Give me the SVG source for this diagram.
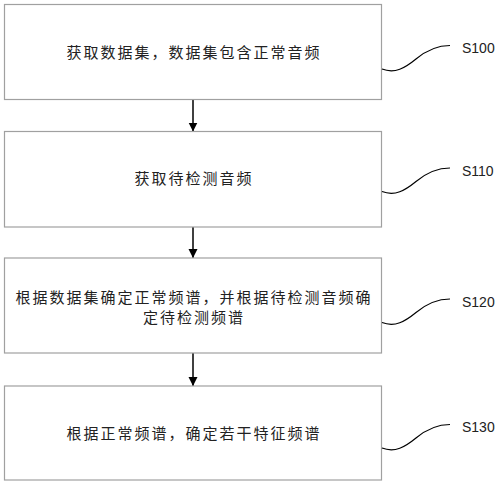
<svg xmlns="http://www.w3.org/2000/svg" width="500" height="489" viewBox="0 0 500 489">
<defs>
<style>
.box{fill:#fff;stroke:#a0a0a0;stroke-width:1.2}
.t{font-family:"Noto Sans CJK SC","Noto Sans",sans-serif;font-size:15px;fill:#222;text-anchor:middle;letter-spacing:2px}
.lbl{font-family:"Liberation Sans",Arial,sans-serif;font-size:14px;fill:#222}
.arr{stroke:#000;stroke-width:1.5;fill:none}
.cv{stroke:#000;stroke-width:1.2;fill:none}
</style>
<marker id="ah" markerWidth="9" markerHeight="10" refX="9" refY="4.5" orient="auto" markerUnits="userSpaceOnUse" viewBox="0 0 9 10">
<path d="M0,0 L9,4.5 L0,9 Z" fill="#000"/>
</marker>
<path id="wave" d="M382,21 C395,26 405,20 416,11 C428,1 440,-2.5 450,-2.5"/>
</defs>
<rect width="500" height="489" fill="#fff"/>
<g id="connectors">
<line class="arr" x1="193" y1="99.5" x2="193" y2="131.5" marker-end="url(#ah)"/>
<line class="arr" x1="193" y1="227" x2="193" y2="258" marker-end="url(#ah)"/>
<line class="arr" x1="193" y1="353" x2="193" y2="386" marker-end="url(#ah)"/>
</g>
<g id="S100">
<rect class="box" x="4.5" y="4.5" width="377" height="95"/>
<text class="t" x="194" y="57.5">获取数据集，数据集包含正常音频</text>
<use href="#wave" class="cv" transform="translate(0,48)"/>
<text class="lbl" x="462" y="53">S100</text>
</g>
<g id="S110">
<rect class="box" x="4.5" y="131.5" width="377" height="95.5"/>
<text class="t" x="194" y="184">获取待检测音频</text>
<use href="#wave" class="cv" transform="translate(0,170.5)"/>
<text class="lbl" x="462" y="175.5">S110</text>
</g>
<g id="S120">
<rect class="box" x="4.5" y="258" width="377" height="95"/>
<text class="t" x="194" y="302.5">根据数据集确定正常频谱，并根据待检测音频确</text>
<text class="t" x="194" y="322.5">定待检测频谱</text>
<use href="#wave" class="cv" transform="translate(0,301.5)"/>
<text class="lbl" x="462" y="306.5">S120</text>
</g>
<g id="S130">
<rect class="box" x="4.5" y="386" width="377" height="94"/>
<text class="t" x="194" y="438.5">根据正常频谱，确定若干特征频谱</text>
<use href="#wave" class="cv" transform="translate(0,427)"/>
<text class="lbl" x="462" y="432">S130</text>
</g>
</svg>
